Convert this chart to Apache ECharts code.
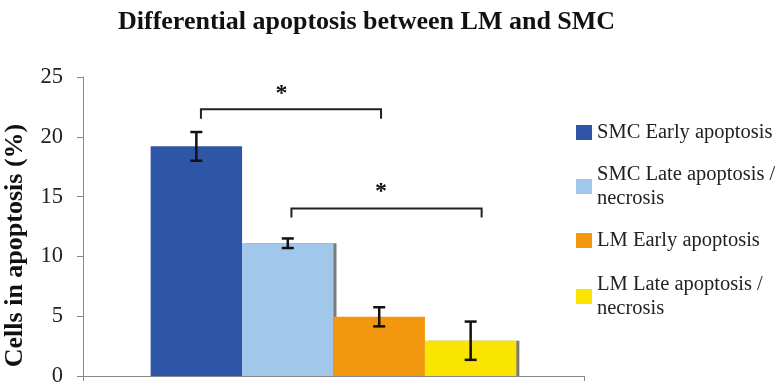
<!DOCTYPE html>
<html>
<head>
<meta charset="utf-8">
<script src="https://cdn.jsdelivr.net/npm/echarts@6/dist/echarts.min.js"></script>
<style>html,body{margin:0;padding:0;background:#fff}#c{width:776px;height:385px}</style>
</head>
<body>
<div id="c"></div>
<script>
const seriesNames = ['SMC Early apoptosis', 'SMC Late apoptosis /\nnecrosis', 'LM Early apoptosis', 'LM Late apoptosis /\nnecrosis'];
const means = [19.2, 11.1, 4.95, 2.95];
const errors = [1.2, 0.4, 0.8, 1.6];
const colors = ['#2F56A6', '#A1C7EA', '#F3970F', '#F9E500'];
const yTicks = [0, 5, 10, 15, 20, 25];
// significance brackets: [startBar, endBar, level, drop, starBar, starLevel]
const brackets = [
  [0.05, 2.02, 22.3, 0.8, 0.93, 23.6],
  [1.04, 3.12, 14.0, 0.75, 2.02, 15.4]
];

const SERIF = '"Liberation Serif", "Times New Roman", serif';
const GAP = 0.27;
const chart = echarts.init(document.getElementById('c'));

function barCenter(params, api, idx) {
  const cs = params.coordSys;
  const band = cs.width;
  const bw = band * (1 - GAP) / seriesNames.length;
  const cx = api.coord([0, 0])[0];
  return { x: cx + (idx - (seriesNames.length - 1) / 2) * bw, bw };
}

const barSeries = seriesNames.map((n, i) => ({
  type: 'bar',
  name: n,
  data: [means[i]],
  barGap: '0%',
  barCategoryGap: (GAP * 100) + '%',
  itemStyle: Object.assign({ color: colors[i] },
    (i % 2 === 1) ? { shadowColor: 'rgba(90,90,90,0.8)', shadowOffsetX: 3, shadowOffsetY: 0, shadowBlur: 0 } : {}),
  z: 2
}));

const errData = means.map((m, i) => [0, m, errors[i], i]);

const legendTops = [120.5, 150.5, 228.5, 260.5];
const legends = seriesNames.map((n, i) => {
  const two = n.indexOf('\n') >= 0;
  return {
    data: [n],
    left: 576,
    top: legendTops[i],
    padding: 0,
    icon: 'rect',
    itemWidth: 16,
    itemHeight: 15,
    selectedMode: false,
    textStyle: {
      fontFamily: SERIF, fontSize: 20.5, color: '#222', lineHeight: 24,
      padding: two ? [24, 0, 0, 0] : 0
    }
  };
});

chart.setOption({
  animation: false,
  backgroundColor: '#fff',
  title: {
    text: 'Differential apoptosis between LM and SMC',
    left: 113, top: 4,
    textStyle: { fontFamily: SERIF, fontWeight: 'bold', fontSize: 26, color: '#111' }
  },
  legend: legends,
  grid: { left: 83, right: 192, top: 77, bottom: 9, outerBoundsMode: 'none', containLabel: false },
  xAxis: {
    type: 'category',
    data: [''],
    axisLine: { lineStyle: { color: '#888', width: 1 } },
    axisTick: { show: true, length: 5, lineStyle: { color: '#888' } },
    axisLabel: { show: false }
  },
  yAxis: {
    type: 'value',
    min: yTicks[0], max: yTicks[yTicks.length - 1], interval: 5,
    name: 'Cells in apoptosis (%)',
    nameLocation: 'middle',
    nameGap: 55,
    nameTextStyle: { fontFamily: SERIF, fontWeight: 'bold', fontSize: 26, color: '#111', padding: [0, 38, 0, 0] },
    axisLine: { show: true, lineStyle: { color: '#888', width: 1 } },
    axisTick: { show: true, length: 6, lineStyle: { color: '#888' } },
    splitLine: { show: false },
    axisLabel: { fontFamily: SERIF, fontSize: 22.5, color: '#222', margin: 20 }
  },
  series: barSeries.concat([
    {
      type: 'custom',
      name: 'err',
      data: errData,
      z: 5,
      clip: false,
      renderItem: function (params, api) {
        const idx = api.value(3);
        const m = api.value(1), e = api.value(2);
        const c = barCenter(params, api, idx);
        const yHi = api.coord([0, m + e])[1];
        const yLo = api.coord([0, m - e])[1];
        const cap = 6;
        const st = { stroke: '#111', lineWidth: 2.5 };
        return {
          type: 'group',
          children: [
            { type: 'line', shape: { x1: c.x, y1: yHi, x2: c.x, y2: yLo }, style: st },
            { type: 'line', shape: { x1: c.x - cap, y1: yHi, x2: c.x + cap, y2: yHi }, style: st },
            { type: 'line', shape: { x1: c.x - cap, y1: yLo, x2: c.x + cap, y2: yLo }, style: st }
          ]
        };
      }
    },
    {
      type: 'custom',
      name: 'sig',
      data: brackets.map(b => [0, b[2], b[0], b[1], b[3], b[4], b[5]]),
      z: 5,
      clip: false,
      renderItem: function (params, api) {
        const y = api.coord([0, api.value(1)])[1];
        const yd = api.coord([0, api.value(1) - api.value(4)])[1];
        const x1 = barCenter(params, api, api.value(2)).x;
        const x2 = barCenter(params, api, api.value(3)).x;
        const sx = barCenter(params, api, api.value(5)).x;
        const sy = api.coord([0, api.value(6)])[1];
        return {
          type: 'group',
          children: [
            { type: 'polyline', shape: { points: [[x1, yd], [x1, y], [x2, y], [x2, yd]] },
              style: { stroke: '#222', lineWidth: 2, fill: null } },
            { type: 'text', x: sx, y: sy,
              style: { text: '*', fontFamily: SERIF, fontWeight: 'bold', fontSize: 24, fill: '#111',
                       align: 'center', verticalAlign: 'middle' } }
          ]
        };
      }
    }
  ])
});
</script>
</body>
</html>
